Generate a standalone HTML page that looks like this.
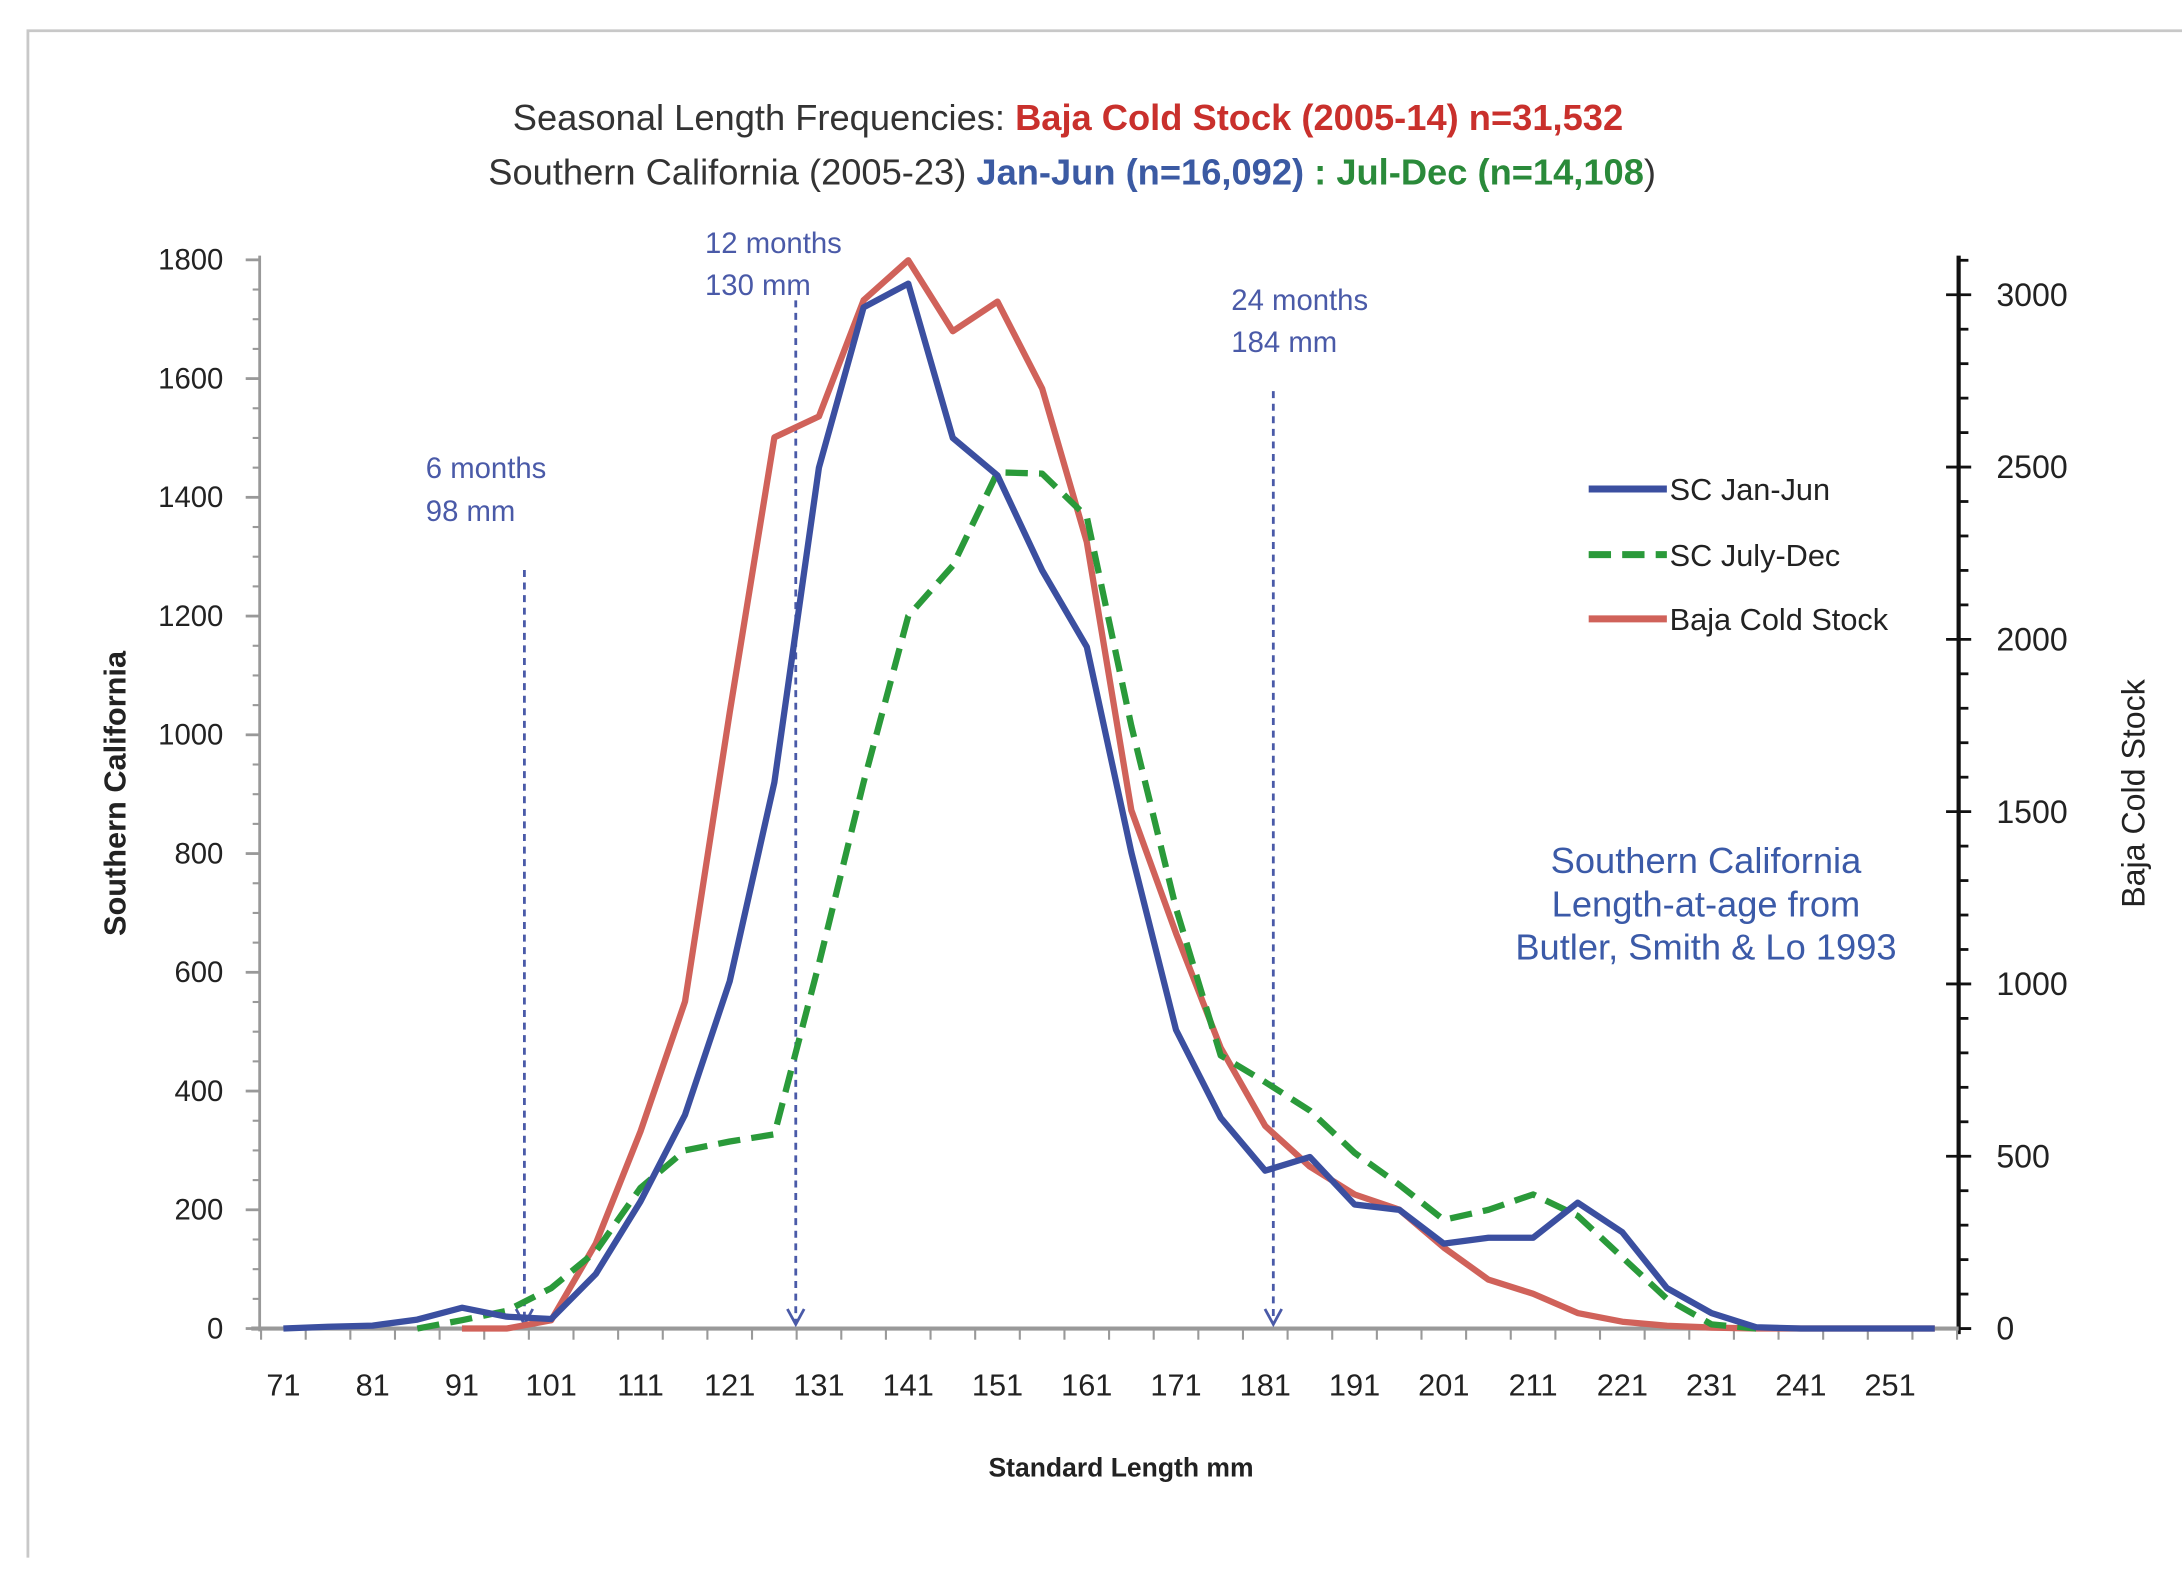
<!DOCTYPE html>
<html><head><meta charset="utf-8"><style>
html,body{margin:0;padding:0;background:#fff;}
svg{display:block;font-family:"Liberation Sans",sans-serif;}
</style></head><body>
<svg id="chart" width="2182" height="1580" viewBox="0 0 1563 1131" preserveAspectRatio="none" xmlns="http://www.w3.org/2000/svg">
<rect width="1563" height="1131" fill="#fff"/>
<path d="M20,1115 L20,22 L1563,22" fill="none" stroke="#c8c8c8" stroke-width="2"/>
<text x="765" y="93" text-anchor="middle" font-size="26" fill="#333">Seasonal Length Frequencies: <tspan fill="#c9302c" font-weight="bold">Baja Cold Stock (2005-14) n=31,532</tspan></text>
<text x="768" y="132" text-anchor="middle" font-size="26" fill="#333">Southern California (2005-23) <tspan fill="#3b5aa3" font-weight="bold">Jan-Jun (n=16,092)</tspan><tspan fill="#2a8a3a" font-weight="bold"> : Jul-Dec (n=14,108</tspan>)</text>
<g id="axes"></g>
<g id="marks"></g>
<text transform="translate(90,568) rotate(-90)" text-anchor="middle" font-size="22" font-weight="bold" fill="#222">Southern California</text>
<text transform="translate(1536,568) rotate(-90)" text-anchor="middle" font-size="23" fill="#222">Baja Cold Stock</text>
<text x="803" y="1057" text-anchor="middle" font-size="19" font-weight="bold" fill="#222">Standard Length mm</text>
<g fill="#4a5aa8" font-size="21">
<text x="305" y="342">6 months</text><text x="305" y="373">98 mm</text>
<text x="505" y="181">12 months</text><text x="505" y="211">130 mm</text>
<text x="882" y="222">24 months</text><text x="882" y="252">184 mm</text>
</g>
<g fill="#3b5aa8" font-size="26" text-anchor="middle">
<text x="1222" y="625">Southern California</text>
<text x="1222" y="656">Length-at-age from</text>
<text x="1222" y="687">Butler, Smith &amp; Lo 1993</text>
</g>
<g font-size="22" fill="#222">
<line x1="1138" y1="350" x2="1194" y2="350" stroke="#3b4fa0" stroke-width="5"/>
<text x="1196" y="358">SC Jan-Jun</text>
<line x1="1138" y1="397" x2="1194" y2="397" stroke="#2a9a3a" stroke-width="5" stroke-dasharray="16,8"/>
<text x="1196" y="405">SC July-Dec</text>
<line x1="1138" y1="443" x2="1194" y2="443" stroke="#d0625a" stroke-width="5"/>
<text x="1196" y="451">Baja Cold Stock</text>
</g>
</svg>
<script>
const lengths = [];
for (let v = 71; v <= 256; v += 5) lengths.push(v);
const janJun = [0,3,5,15,35,20,16,92,214,360,585,920,1450,1720,1760,1500,1437,1277,1148,802,503,355,266,289,209,200,143,153,153,212,162,68,26,2,0,0,0,0];
const julDec = [null,null,null,0,14,30,68,130,237,300,315,327,614,920,1200,1285,1442,1440,1367,1015,708,460,415,367,296,242,183,200,226,190,120,50,7,0,null,null,null,null];
const baja = [null,null,null,null,0,0,24,247,572,949,1788,2586,2647,2984,3100,2894,2980,2728,2282,1504,1147,815,588,470,389,345,235,142,101,45,20,8,3,0,0,0,0,0];
const leftTicks = [0,200,400,600,800,1000,1200,1400,1600,1800];
const rightTicks = [0,500,1000,1500,2000,2500,3000];
const xTickLabels = [71,81,91,101,111,121,131,141,151,161,171,181,191,201,211,221,231,241,251];
const ageMarks = [98, 128.4, 181.9];
const ageTops = [408,215,280];

const NS = "http://www.w3.org/2000/svg";
const xS = v => 203 + (v - 71) * 6.394;
const yL = v => 951 - v * 0.425;
const yR = v => 951 - v * 0.24667;
const axes = document.getElementById('axes');
const marks = document.getElementById('marks');
function mk(tag, attrs, parent) {
  const e = document.createElementNS(NS, tag);
  for (const k in attrs) e.setAttribute(k, attrs[k]);
  parent.appendChild(e);
  return e;
}
let e = mk('line', {x1:186,y1:183,x2:186,y2:953,stroke:'#999','stroke-width':2}, axes);


for (let v = 0; v <= 1800; v += 50) {
  const big = v % 200 === 0;
  mk('line', {x1: big?176:181, y1:yL(v), x2:186, y2:yL(v), stroke:'#999','stroke-width':big?2:1.5}, axes);
}
leftTicks.forEach(v => {
  const t = mk('text', {x:160,y:yL(v)+7,'text-anchor':'end','font-size':21,fill:'#222'}, axes);
  t.textContent = v;
  
  
});
e = mk('line', {x1:1403,y1:183,x2:1403,y2:955,stroke:'#111','stroke-width':3}, axes);


for (let v = 0; v <= 3100; v += 100) {
  const big = v % 500 === 0;
  mk('line', {x1: big?1394:1403, y1:yR(v), x2: big?1412:1410, y2:yR(v), stroke:'#111','stroke-width':2}, axes);
}
rightTicks.forEach(v => {
  const t = mk('text', {x:1430,y:yR(v)+8,'font-size':23,fill:'#222'}, axes);
  t.textContent = v;
  
  
});
e = mk('line', {x1:180,y1:951,x2:1403,y2:951,stroke:'#999','stroke-width':3}, axes);


for (let v = 68.5; v <= 258.5; v += 5) {
  mk('line', {x1:xS(v),y1:951,x2:xS(v),y2:959,stroke:'#999','stroke-width':1.5}, axes);
}
xTickLabels.forEach(v => {
  const t = mk('text', {x:xS(v),y:999,'text-anchor':'middle','font-size':22,fill:'#222'}, axes);
  t.textContent = v;
  
  
});
ageMarks.forEach((m, i) => {
  const x = xS(m);
  const g = mk('g', {}, marks);
  
  
  mk('line', {x1:x,y1:ageTops[i],x2:x,y2:947,stroke:'#4a5aa8','stroke-width':2,'stroke-dasharray':'5,4'}, g);
  mk('path', {d:`M${x-6},937 L${x},948 L${x+6},937`,fill:'none',stroke:'#4a5aa8','stroke-width':2}, g);
});
function series(vals, yf, color, dash, name) {
  let d = '', started = false;
  vals.forEach((v, i) => {
    if (v === null) { started = false; return; }
    d += (started ? 'L' : 'M') + xS(lengths[i]).toFixed(1) + ',' + yf(v).toFixed(1);
    started = true;
  });
  const p = mk('path', {d, fill:'none', stroke:color, 'stroke-width':4.5, 'stroke-linejoin':'round'}, marks);
  if (dash) p.setAttribute('stroke-dasharray', dash);
  
  
}
series(baja, yR, '#d0625a', null, 'baja-cold-stock-line');
series(julDec, yL, '#2a9a3a', '16,8', 'sc-jul-dec-line');
series(janJun, yL, '#3b4fa0', null, 'sc-jan-jun-line');
</script>
</body></html>
